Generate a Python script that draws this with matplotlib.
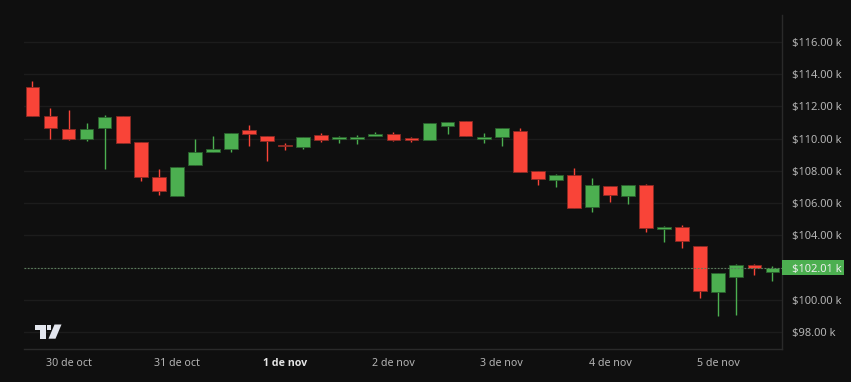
import matplotlib
matplotlib.use("Agg")
import matplotlib.pyplot as plt
from matplotlib.patches import Polygon, Rectangle

opens = [113.23,111.39,110.60,109.98,110.66,111.39,109.77,107.65,106.43,108.37,109.15,109.38,110.54,110.17,
         109.60,109.49,110.21,109.98,109.98,110.17,110.27,110.04,109.92,110.81,111.10,109.98,110.11,110.48,
         107.98,107.44,107.75,105.77,107.09,106.43,107.15,104.38,104.53,103.37,100.52,101.40,102.15,101.76]
closes = [111.43,110.66,109.98,110.60,111.35,109.71,107.60,106.78,108.27,109.15,109.38,110.33,110.27,109.88,
          109.56,110.11,109.92,110.11,110.11,110.27,109.92,109.92,110.97,111.04,110.17,110.11,110.66,107.94,
          107.50,107.75,105.70,107.15,106.49,107.15,104.48,104.53,103.66,100.58,101.65,102.15,102.00,102.01]
highs = [113.55,111.90,111.78,110.95,111.49,111.39,109.77,108.10,108.27,109.98,110.17,110.33,110.85,110.17,
         109.73,110.11,110.33,110.17,110.21,110.44,110.42,110.11,110.97,111.04,111.10,110.35,110.66,110.66,
         107.98,107.81,108.16,107.58,107.09,107.15,107.21,104.59,104.65,103.37,101.65,102.21,102.25,102.13]
lows = [111.43,109.98,109.94,109.86,108.12,109.71,107.38,106.49,106.43,108.37,109.15,109.20,109.55,108.60,
        109.32,109.36,109.82,109.75,109.65,110.17,109.88,109.82,109.92,110.31,110.17,109.71,109.55,107.94,
        107.13,107.01,105.70,105.48,106.10,105.93,104.22,103.60,103.24,100.14,99.03,99.09,101.57,101.20]
price_ticks = [98, 100, 102, 104, 106, 108, 110, 112, 114, 116]
price_labels = ["$98.00 k", "$100.00 k", "", "$104.00 k", "$106.00 k", "$108.00 k",
                "$110.00 k", "$112.00 k", "$114.00 k", "$116.00 k"]
date_pos = [2, 8, 14, 20, 26, 32, 38]
date_labels = ["30 de oct", "31 de oct", "1 de nov", "2 de nov", "3 de nov", "4 de nov", "5 de nov"]
last_price = 102.01
last_label = "$102.01 k"

BG = "#0f0f0f"
UP, DOWN = "#4caf50", "#f94438"
UP_E, DOWN_E = "#2a5f2d", "#8a2a24"
GRID, AXIS, TXT = "#1c1c1c", "#2a2a2a", "#b4b4b4"
FONT = "Noto Sans"
W, H = 851, 382

fig = plt.figure(figsize=(W / 100, H / 100), dpi=100, facecolor=BG)
L, R, T, B = 24, 782.4, 15, 349.4
X0 = 32.4
ax = fig.add_axes([L / W, 1 - B / H, (R - L) / W, (B - T) / H], facecolor=BG)
ax.set_xlim((L - X0) / 18.05, (R - X0) / 18.05)
ax.set_ylim(100 - (B - 300) / 16.13, 100 + (300 - T) / 16.13)

for s in ["top", "left"]:
    ax.spines[s].set_visible(False)
for s in ["right", "bottom"]:
    ax.spines[s].set_color(AXIS)
    ax.spines[s].set_linewidth(1)

ax.set_yticks(price_ticks)
ax.set_yticklabels(price_labels, fontfamily=FONT, fontsize=8.0, color=TXT)
ax.yaxis.tick_right()
ax.tick_params(axis="y", length=0, pad=6.8)
ax.set_xticks(date_pos)
ax.set_xticklabels(date_labels, fontfamily=FONT, fontsize=7.7, color=TXT)
ax.tick_params(axis="x", length=0, pad=6.4)
for lab, txt in zip(ax.get_xticklabels(), date_labels):
    if txt == "1 de nov":
        lab.set_fontfamily("Open Sans")
        lab.set_fontweight("bold")
        lab.set_color("#e6e6e6")
ax.grid(axis="y", color=GRID, linewidth=1)
ax.set_axisbelow(True)

xs = list(range(len(opens)))
for i in xs:
    up = closes[i] >= opens[i]
    c, e = (UP, UP_E) if up else (DOWN, DOWN_E)
    ax.vlines(i, lows[i], highs[i], color=c, linewidth=1, zorder=2)
    lo, hi = min(opens[i], closes[i]), max(opens[i], closes[i])
    ax.bar(i, hi - lo, bottom=lo, width=0.76, color=c, edgecolor=e, linewidth=0.6, zorder=3)

ax.axhline(last_price, color="#5c7f5d", linewidth=0.8, linestyle=(0, (1.5, 1.5)), zorder=4)

# last price tag
ytrans = ax.get_yaxis_transform()
ax.add_patch(Rectangle((1.0, last_price - 0.48), 61.5 / (R - L), 0.96, transform=ytrans,
                       clip_on=False, facecolor=UP, edgecolor="none", zorder=5))
ax.annotate(last_label, xy=(1, last_price), xycoords=ytrans, xytext=(9.5, 0),
            textcoords="offset pixels", va="center_baseline", ha="left", color="#eeeeee",
            fontfamily=FONT, fontsize=8.0, zorder=6, annotation_clip=False)

# TradingView logo, figure pixel coordinates
def P(pts):
    return [(x / W, 1 - y / H) for x, y in pts]
logo = "#e3e6ee"
fig.add_artist(Polygon(P([(34.5, 324.5), (46, 324.5), (46, 338.7), (40, 338.7), (40, 330), (34.5, 330)]),
                       closed=True, fc=logo, ec="none"))
fig.add_artist(Polygon(P([(54.5, 324.5), (61.5, 324.5), (55.5, 338.7), (48.5, 338.7)]),
                       closed=True, fc=logo, ec="none"))
fig.add_artist(Polygon(P([(47.3, 325), (50.7, 325), (50.7, 329.5), (47.3, 329.5)]),
                       closed=True, fc=logo, ec="none"))

fig.savefig("out.png", dpi=100, facecolor=BG)
